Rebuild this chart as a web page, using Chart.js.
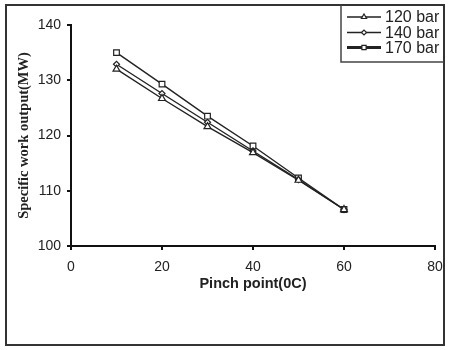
<!DOCTYPE html>
<html>
<head>
<meta charset="utf-8">
<script src="https://cdn.jsdelivr.net/npm/chart.js@4.4.1/dist/chart.umd.min.js"></script>
<style>
  html, body { margin: 0; padding: 0; background: #fff; }
  #wrap { width: 453px; height: 350px; position: relative; }
</style>
</head>
<body>
<div id="wrap"><canvas id="chart" width="453" height="350"></canvas></div>
<script>
// pinch point (°C) and specific work output (MW) per pressure
const pinchPoints = [10, 20, 30, 40, 50, 60];
const seriesNames = ["120 bar", "140 bar", "170 bar"];
const work120 = [132.0, 126.7, 121.6, 116.9, 111.9, 106.6];
const work140 = [132.9, 127.6, 122.4, 117.2, 112.0, 106.6];
const work170 = [135.0, 129.3, 123.5, 118.1, 112.3, 106.6];
const xTicks = [0, 20, 40, 60, 80];
const yTicks = [100, 110, 120, 130, 140];

const ink = "#222";
const sans = "'Liberation Sans', Arial, sans-serif";

const styles = [
  { pointStyle: "triangle", radius: 4, legendWidth: 1.5 },
  { pointStyle: "rectRot", radius: 3, legendWidth: 1.5 },
  { pointStyle: "rect", radius: 4, legendWidth: 3 },
];

const datasets = [work120, work140, work170].map((vals, i) => ({
  label: seriesNames[i],
  data: pinchPoints.map((x, j) => ({ x, y: vals[j] })),
  borderColor: ink,
  borderWidth: 1.4,
  pointStyle: styles[i].pointStyle,
  pointRadius: styles[i].radius,
  pointBackgroundColor: "#fff",
  pointBorderColor: ink,
  pointBorderWidth: 1.2,
  showLine: true,
  tension: 0,
}));

// outer frame + legend box in the top-right corner
const framePlugin = {
  id: "frame",
  afterDraw(chart) {
    const c = chart.ctx;
    c.save();
    c.strokeStyle = "#333";
    c.lineWidth = 2;
    c.strokeRect(6, 5, 438, 340);

    c.lineWidth = 1.5;
    c.strokeStyle = "#444";
    c.beginPath();
    c.moveTo(341, 5);
    c.lineTo(341, 62);
    c.lineTo(444, 62);
    c.stroke();

    const rows = [17, 32.5, 47.5];
    seriesNames.forEach((name, i) => {
      const y = rows[i];
      c.strokeStyle = ink;
      c.lineWidth = styles[i].legendWidth;
      c.beginPath();
      c.moveTo(347, y);
      c.lineTo(381, y);
      c.stroke();
      c.fillStyle = "#fff";
      c.lineWidth = 1.2;
      Chart.helpers.drawPoint(c, {
        pointStyle: styles[i].pointStyle,
        radius: i === 1 ? 2.5 : 3,
        borderWidth: 1.2,
      }, 364, y);
      c.fillStyle = ink;
      c.font = "16px " + sans;
      c.textBaseline = "middle";
      c.textAlign = "left";
      c.fillText(name, 385, y + 1);
    });
    c.restore();
  },
};

new Chart(document.getElementById("chart"), {
  type: "scatter",
  data: { datasets },
  options: {
    responsive: false,
    animation: false,
    layout: { padding: { left: 0, right: 18, top: 25, bottom: 54 } },
    plugins: {
      legend: { display: false },
      tooltip: { enabled: false },
    },
    scales: {
      x: {
        type: "linear",
        min: 0,
        max: 80,
        afterBuildTicks: (s) => { s.ticks = xTicks.map(v => ({ value: v })); },
        afterFit: (s) => { s.height = 50; },
        border: { color: "#111", width: 2 },
        grid: { drawOnChartArea: false, color: "#111", lineWidth: 2, tickLength: 4 },
        ticks: {
          color: ink,
          padding: 9,
          maxRotation: 0,
          font: { family: sans, size: 14 },
        },
        title: {
          display: true,
          text: "Pinch point(0C)",
          color: ink,
          padding: { top: 0, bottom: 3 },
          font: { family: sans, size: 14.5, weight: "bold" },
        },
      },
      y: {
        min: 100,
        max: 140,
        afterBuildTicks: (s) => { s.ticks = yTicks.map(v => ({ value: v })); },
        afterFit: (s) => { s.width = 71; },
        border: { color: "#111", width: 2 },
        grid: { drawOnChartArea: false, color: "#111", lineWidth: 2, tickLength: 4 },
        ticks: {
          color: ink,
          padding: 6,
          font: { family: sans, size: 14 },
        },
        title: {
          display: true,
          text: "Specific work output(MW)",
          color: ink,
          padding: { top: 16, bottom: 4 },
          font: { family: "'Liberation Serif', 'Times New Roman', serif", size: 14.5, weight: "bold" },
        },
      },
    },
  },
  plugins: [framePlugin],
});
</script>
</body>
</html>
